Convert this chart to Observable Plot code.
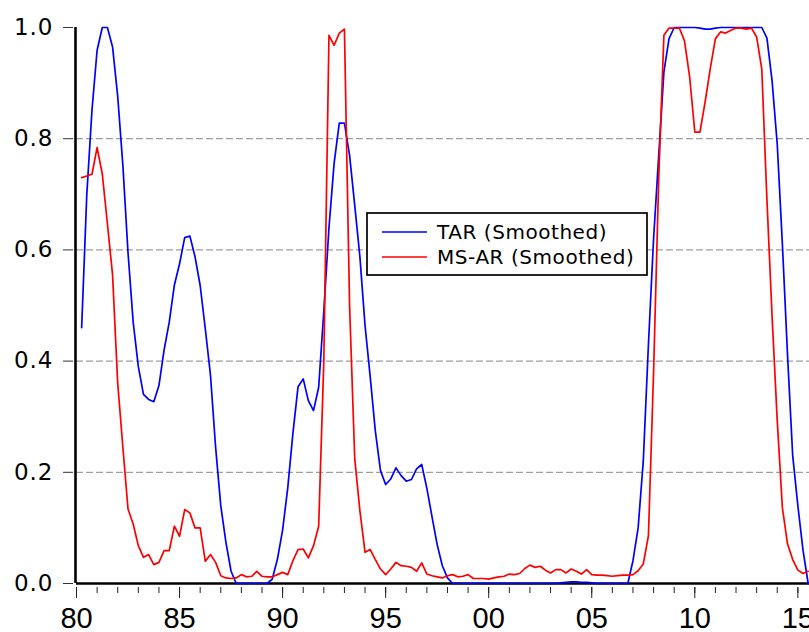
<!DOCTYPE html>
<html><head><meta charset="utf-8">
<script src="https://cdn.jsdelivr.net/npm/d3@7"></script>
<script src="https://cdn.jsdelivr.net/npm/@observablehq/plot@0.6"></script>
<style>
html,body{margin:0;padding:0;background:#fff;}
#chart{position:relative;width:809px;height:632px;overflow:hidden;}
#chart svg g[aria-label="y-axis tick label"] text{letter-spacing:1px;}
</style></head><body><div id="chart"></div>
<script>
// Smoothed regime probabilities, quarterly from 1980Q2
const tar = [
  0.46, 0.70, 0.851, 0.959, 1.0, 1.0, 0.965, 0.876, 0.752, 0.595,
  0.470, 0.390, 0.340, 0.331, 0.327, 0.356, 0.42, 0.47, 0.537, 0.575,
  0.622, 0.625, 0.588, 0.536, 0.458, 0.375, 0.245, 0.14, 0.074, 0.022,
  0, 0, 0, 0, 0, 0, 0, 0.008, 0.044, 0.096,
  0.172, 0.27, 0.354, 0.368, 0.329, 0.311, 0.353, 0.49, 0.64, 0.756,
  0.828, 0.828, 0.77, 0.68, 0.588, 0.464, 0.372, 0.274, 0.203, 0.178,
  0.188, 0.208, 0.194, 0.184, 0.187, 0.206, 0.214, 0.171, 0.12, 0.07,
  0.032, 0.010, 0, 0, 0, 0, 0, 0, 0, 0,
  0, 0, 0, 0, 0, 0, 0, 0, 0, 0,
  0, 0, 0, 0.001, 0.002, 0.003, 0.003, 0.002, 0.002, 0.001,
  0, 0, 0, 0, 0, 0, 0, 0.041, 0.10, 0.22,
  0.43, 0.62, 0.77, 0.92, 0.98, 1.0, 1.0, 1.0, 1.0, 1.0,
  0.999, 0.997, 0.997, 0.999, 1.0, 1.0, 1.0, 1.0, 1.0, 1.0,
  1.0, 1.0, 1.0, 0.981, 0.904, 0.79, 0.61, 0.41, 0.23, 0.14,
  0.06, 0.0
];
const msar = [
  0.730, 0.733, 0.736, 0.784, 0.737, 0.647, 0.555, 0.36, 0.245, 0.134,
  0.107, 0.068, 0.047, 0.052, 0.034, 0.038, 0.059, 0.059, 0.103, 0.085,
  0.133, 0.127, 0.100, 0.100, 0.040, 0.052, 0.038, 0.014, 0.010, 0.009,
  0.010, 0.016, 0.012, 0.013, 0.022, 0.013, 0.012, 0.012, 0.016, 0.020,
  0.016, 0.041, 0.061, 0.062, 0.046, 0.068, 0.103, 0.40, 0.986, 0.968,
  0.990, 0.997, 0.50, 0.224, 0.131, 0.056, 0.061, 0.043, 0.026, 0.016,
  0.026, 0.038, 0.032, 0.031, 0.029, 0.022, 0.037, 0.017, 0.014, 0.012,
  0.010, 0.014, 0.016, 0.012, 0.013, 0.016, 0.009, 0.009, 0.009, 0.008,
  0.010, 0.012, 0.013, 0.017, 0.016, 0.018, 0.027, 0.033, 0.029, 0.031,
  0.024, 0.019, 0.025, 0.025, 0.019, 0.026, 0.022, 0.017, 0.025, 0.016,
  0.015, 0.015, 0.014, 0.013, 0.014, 0.015, 0.015, 0.016, 0.023, 0.035,
  0.086, 0.38, 0.73, 0.986, 0.999, 0.999, 0.999, 0.976, 0.911, 0.812,
  0.812, 0.866, 0.926, 0.980, 0.992, 0.990, 0.995, 0.999, 0.999, 0.997,
  0.999, 0.983, 0.925, 0.69, 0.48, 0.293, 0.136, 0.071, 0.043, 0.024,
  0.018, 0.022
];
const firstQuarter = 1980.25;   // 1980Q2
const quarterStep = 0.25;
const seriesNames = ["TAR (Smoothed)", "MS-AR (Smoothed)"];
const seriesColors = ["#0000ff", "#ff0000"];
const yTicks = [0, 0.2, 0.4, 0.6, 0.8, 1.0];
const gridTicks = [0.2, 0.4, 0.6, 0.8];
const majorYears = [1980, 1985, 1990, 1995, 2000, 2005, 2010, 2015];
const xLabels = ["80", "85", "90", "95", "00", "05", "10", "15"];
const minorYears = d3.range(1980, 2016);

const data = [];
[tar, msar].forEach((arr, s) => arr.forEach((v, i) =>
  data.push({date: firstQuarter + i * quarterStep, value: v, series: seriesNames[s]})));

const plot = Plot.plot({
  width: 809, height: 632,
  marginLeft: 76, marginRight: 0, marginTop: 27, marginBottom: 49,
  x: {domain: [1980, 2015.565], axis: null, label: null},
  y: {domain: [0, 1], axis: null, label: null},
  color: {domain: seriesNames, range: seriesColors},
  style: {fontFamily: "DejaVu Sans", background: "white", overflow: "visible", color: "#000"},
  marks: [
    Plot.ruleY(gridTicks, {stroke: "#a0a0a0", strokeWidth: 1.2, strokeDasharray: "7,3"}),
    Plot.axisY(yTicks, {anchor: "left", label: null, tickSize: 10, dx: -3, tickPadding: 10,
      tickFormat: d3.format(".1f"), fontSize: 23, fontFamily: "DejaVu Sans", stroke: "#333"}),
    Plot.axisX(minorYears, {anchor: "bottom", label: null, tickSize: 6, dy: 4, tickFormat: () => "", stroke: "#222"}),
    Plot.axisX(majorYears, {anchor: "bottom", label: null, tickSize: 11, dy: 4, tickPadding: 9,
      tickFormat: d => xLabels[majorYears.indexOf(d)], fontSize: 29, fontFamily: "Liberation Sans", stroke: "#222"}),
    Plot.ruleY([0], {stroke: "#000", strokeWidth: 2.6}),
    Plot.ruleX([1980], {y1: 0, y2: 1, stroke: "#000", strokeWidth: 2.6, dx: -1}),
    Plot.line(data, {x: "date", y: "value", z: "series", stroke: "series", strokeWidth: 1.7})
  ]
});

document.getElementById("chart").appendChild(plot);

// Legend box
const svg = d3.select(plot);
const lg = svg.append("g").attr("text-anchor", "start");
lg.append("rect").attr("x", 367).attr("y", 213).attr("width", 280).attr("height", 62)
  .attr("fill", "white").attr("stroke", "black").attr("stroke-width", 1.7);
seriesNames.forEach((name, i) => {
  const y = 232 + i * 25;
  lg.append("line").attr("x1", 382).attr("x2", 427).attr("y1", y).attr("y2", y)
    .attr("stroke", seriesColors[i]).attr("stroke-width", 1.6);
  lg.append("text").attr("x", 437).attr("y", y).attr("dy", "0.36em")
    .attr("text-anchor", "start")
    .attr("font-family", "DejaVu Sans").attr("font-size", 20).attr("letter-spacing", "0.55px")
    .attr("fill", "#000").text(name);
});
</script>
</body></html>
